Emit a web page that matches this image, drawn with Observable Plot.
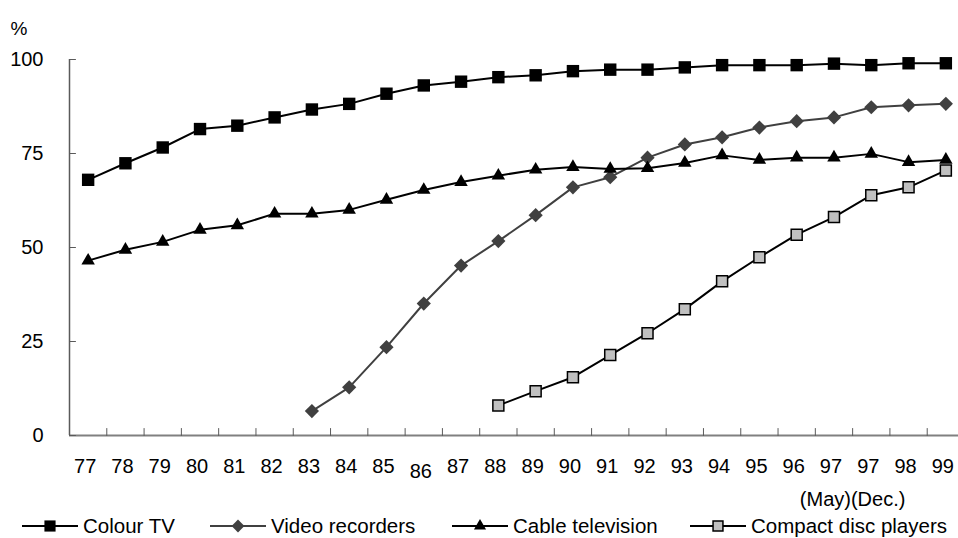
<!DOCTYPE html>
<html>
<head>
<meta charset="utf-8">
<script src="https://cdn.jsdelivr.net/npm/d3@7"></script>
<script src="https://cdn.jsdelivr.net/npm/@observablehq/plot@0.6"></script>
<style>
  body { margin: 0; background: #fff; font-family: "Liberation Sans", Arial, sans-serif; }
  #chart { position: relative; width: 958px; height: 538px; overflow: hidden; }
  #chart svg { display: block; }
  #legend { position: absolute; left: 0; top: 516px; width: 958px; height: 22px;
            font-size: 20.5px; line-height: 20px; color: #000; }
  .item { position: absolute; top: 0; display: flex; align-items: center; white-space: nowrap; }
  .item svg { margin-right: 5px; }
</style>
</head>
<body>
<div id="chart"><div id="legend"></div></div>
<script>
// Survey years (1997 surveyed twice: May and December)
const categories = ["77","78","79","80","81","82","83","84","85","86","87","88","89","90",
  "91","92","93","94","95","96","97 (May)","97 (Dec.)","98","99"];

// Household ownership, % of households
const colourTV = [68.0,72.4,76.6,81.5,82.4,84.6,86.7,88.2,90.9,93.1,94.1,95.3,95.8,96.9,
  97.3,97.3,97.9,98.5,98.5,98.5,98.9,98.5,99.0,99.0];
const videoRecorders = [null,null,null,null,null,null,6.5,12.8,23.5,35.1,45.2,51.7,58.6,66.0,
  68.7,73.9,77.4,79.3,81.9,83.6,84.6,87.3,87.8,88.2];
const cableTelevision = [46.5,49.4,51.5,54.7,55.9,59.0,59.0,60.0,62.7,65.3,67.4,69.1,70.7,71.4,
  70.9,71.1,72.5,74.5,73.3,73.9,73.9,74.9,72.7,73.3];
const compactDiscPlayers = [null,null,null,null,null,null,null,null,null,null,null,8.0,11.8,15.5,
  21.4,27.2,33.6,41.0,47.4,53.4,58.1,63.9,66.0,70.5];

const yTicks = [0, 25, 50, 75, 100];

const series = [
  {name: "Colour TV", values: colourTV, line: "#000", symbol: "square", r: 7, fill: "#000", stroke: "none", sw: 0},
  {name: "Video recorders", values: videoRecorders, line: "#404040", symbol: "diamond2", r: 6.4, fill: "#404040", stroke: "none", sw: 0},
  {name: "Cable television", values: cableTelevision, line: "#000", symbol: "triangle", r: 5, fill: "#000", stroke: "none", sw: 0},
  {name: "Compact disc players", values: compactDiscPlayers, line: "#000", symbol: "square", r: 6.2, fill: "#c0c0c0", stroke: "#000", sw: 1.5}
];

const rowsOf = (values) => values.map((v, i) => ({i, v})).filter(d => d.v != null);
// year number on the first line; the two 1997 surveys share a note underneath
const labelRows = categories.map((c, i) => ({i, label: c.split(" ")[0]}));
const surveys1997 = categories.map((c, i) => [c, i]).filter(([c]) => c.startsWith("97 "));
const noteRow = {
  i: d3.mean(surveys1997, ([, i]) => i),
  note: surveys1997.map(([c]) => c.split(" ")[1]).join("")
};
const boundaries = d3.range(1, categories.length).map(i => i - 0.5);

// a plain straight stroke for tick marks
const tickShape = {draw(context, l) { context.moveTo(0, 0); context.lineTo(0, -l); }};

const seriesMarks = series.flatMap(s => [
  Plot.line(rowsOf(s.values), {x: "i", y: "v", stroke: s.line, strokeWidth: 2}),
  Plot.dot(rowsOf(s.values), {x: "i", y: "v", symbol: s.symbol, r: s.r, fill: s.fill,
    stroke: s.stroke, strokeWidth: s.sw})
]);

const labelFont = {fontSize: 20, fill: "#000"};

const chart = Plot.plot({
  width: 958,
  height: 512,
  marginLeft: 69,
  marginRight: 0,
  marginTop: 59,
  marginBottom: 77,
  style: {fontFamily: "'Liberation Sans', Arial, sans-serif", background: "#fff", overflow: "visible"},
  x: {type: "linear", domain: [-0.5, categories.length - 0.5], range: [69, 964], axis: null},
  y: {domain: [0, 100], axis: null},
  marks: [
    // axes
    Plot.ruleY([0], {stroke: "#808080", strokeWidth: 2}),
    Plot.ruleX([-0.5], {y1: 0, y2: 100, stroke: "#5a5a5a", strokeWidth: 1.5}),
    Plot.vector(boundaries, {x: d => d, y: 0, length: 7, rotate: 0, anchor: "start",
      shape: tickShape, stroke: "#5a5a5a", strokeWidth: 1}),
    Plot.vector(yTicks, {x: -0.5, y: d => d, length: 6, rotate: 90, anchor: "start",
      shape: tickShape, stroke: "#5a5a5a", strokeWidth: 1}),
    Plot.text(yTicks, {y: d => d, text: d => String(d), frameAnchor: "left",
      textAnchor: "end", dx: -26, ...labelFont}),
    Plot.text(labelRows.filter(d => d.label !== "86"), {x: "i", text: "label", frameAnchor: "bottom",
      lineAnchor: "bottom", dy: 37, dx: -3, ...labelFont}),
    Plot.text(labelRows.filter(d => d.label === "86"), {x: "i", text: "label", frameAnchor: "bottom",
      lineAnchor: "bottom", dy: 42, dx: -3, ...labelFont}),
    Plot.text([noteRow], {x: "i", text: "note", frameAnchor: "bottom",
      lineAnchor: "bottom", dy: 70, ...labelFont}),
    Plot.text(["%"], {text: d => d, frameAnchor: "top-left", textAnchor: "start",
      dx: -59, dy: -38, fontSize: 19, fill: "#000"}),
    ...seriesMarks
  ]
});

document.getElementById("chart").prepend(chart);

// legend below the plot, one entry per series
const legendLeft = [22, 210, 452, 690];
const legend = d3.select("#legend");
series.forEach((s, k) => {
  const item = legend.append("div").attr("class", "item").style("left", legendLeft[k] + "px");
  const sv = item.append("svg").attr("width", 56).attr("height", 16);
  sv.append("line").attr("x1", 0).attr("x2", 56).attr("y1", 8).attr("y2", 8)
    .attr("stroke", s.line).attr("stroke-width", 2);
  const symbolType = {square: d3.symbolSquare, diamond2: d3.symbolDiamond2, triangle: d3.symbolTriangle}[s.symbol];
  const scale = 0.9;
  sv.append("path")
    .attr("d", d3.symbol(symbolType, (s.r * scale) ** 2 * Math.PI)())
    .attr("transform", "translate(28,8)")
    .attr("fill", s.fill).attr("stroke", s.stroke === "none" ? null : s.stroke)
    .attr("stroke-width", s.sw || null);
  item.append("span").text(s.name);
});
</script>
</body>
</html>
